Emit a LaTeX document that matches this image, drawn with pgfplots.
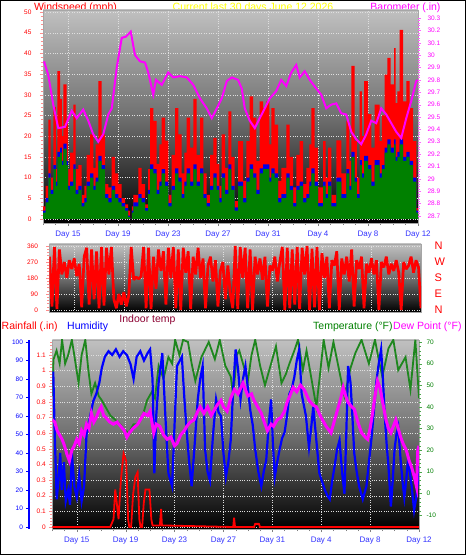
\documentclass[border=0pt]{standalone}
\usepackage{fontspec}
\setmainfont{Liberation Sans}
\usepackage{pgfplots}
\usepackage{pgfplotstable}
\pgfplotsset{compat=1.18}
\definecolor{bgtop}{RGB}{192,192,192}
\definecolor{bgmid}{RGB}{112,112,112}
\definecolor{dayblue}{RGB}{50,50,255}
\definecolor{tickpink}{RGB}{255,140,140}
\definecolor{magpink}{RGB}{255,0,255}
\definecolor{ttl}{RGB}{255,255,0}
\definecolor{indoor}{RGB}{140,0,50}
\definecolor{tgreen}{RGB}{0,128,0}
\definecolor{lgreen}{RGB}{30,135,30}
\definecolor{wgreen}{RGB}{0,128,0}
\definecolor{wblue}{RGB}{0,0,230}
\definecolor{hblue}{RGB}{0,0,255}

\pgfplotstableread{
d r b g
0.0 3 2 1.5
0.2 8 5 4
0.43 24 11 10
0.6 10 7 6
0.83 27 13 12
1.03 12 9 8
1.15 35.7 16.2 15
1.36 29 17.2 16
1.5 20 14 13
1.63 32.5 18.2 17
1.89 23 14 13
2.0 12 8 7
2.16 16 9 8
2.43 27.6 13.2 12
2.6 12 7 6
2.83 13 8 7
3.09 5.8 3.8 3
3.3 8 5 4
3.49 15.5 9 8
3.76 20.4 11 10
4.03 12.3 8 7
4.2 18 10 9
4.43 33.3 15.2 14
4.69 20.4 13 12
4.96 8.4 6 5
5.23 7.6 5 4
5.49 15 8 7
5.76 11 6 5
6.03 8.4 5 4
6.29 5 3.8 3
6.56 3.5 2.6 2
6.8 2 0.8 0.5
6.96 0 0 0
7.1 3 2 1.5
7.23 5.8 4 3
7.63 12.3 6 5
7.89 8.4 5 4
8.16 3.5 2.6 2
8.4 12 7 6
8.56 26.8 13.2 12
8.83 23.7 12 11
9.09 13.3 7 6
9.3 18 9 8
9.49 24.5 12 11
9.76 18.9 9 8
10.03 5.8 3.8 3
10.29 15.5 8 7
10.56 26.8 12.2 11
10.83 20.4 10 9
11.09 11 6 5
11.3 16 9 8
11.49 24.5 12.2 11
11.76 17.2 9 8
12.03 29 13.2 12
12.29 15.5 9 8
12.56 24.5 12.2 11
12.83 11 6 5
13.09 5.8 3.8 3
13.36 15.5 8 7
13.63 19.6 11 10
13.89 13.3 8 7
14.1 8 5 4
14.29 20.4 11 10
14.56 12.3 7 6
14.83 26 13.2 12
15.07 15 8 7
15.33 4.3 2.8 2
15.6 18.8 9 8
16.0 9.2 5 4
16.27 18.8 10 9
16.53 29.6 13.2 12
16.8 24.5 11 10
17.07 14 7 6
17.33 28.4 12.2 11
17.6 26.8 13.2 12
17.87 28.4 13.2 12
18.1 18 10 9
18.27 26.8 12.2 11
18.53 22.8 11 10
18.8 9.2 5 4
19.07 12.3 6 5
19.47 22.8 11 10
19.73 15 8 7
20.0 7.6 3.8 3
20.27 15.5 8 7
20.53 18.8 9 8
20.8 8.4 5 4
21.07 12.3 6 5
21.3 18 9 8
21.47 26.8 12.2 11
21.73 17.2 9 8
22.0 7.6 3.8 3
22.4 18.8 9 8
22.6 10 6 5
22.8 17.2 9 8
23.07 5.8 3.8 3
23.47 19 10 9
23.87 11 6 5
24.27 23.7 12 11
24.5 14 8 7
24.67 37 16.2 15
24.93 18.8 10 9
25.1 10 6 5
25.33 30.8 14.2 13
25.5 20 11 10
25.68 33.3 15.2 14
26.0 25.3 13 12
26.27 17.2 9 8
26.53 27.6 14.2 13
26.93 18.8 11 10
27.1 25 13 12
27.33 34.9 17.2 16
27.55 38.9 19.2 18
27.81 32.5 17.2 16
28.08 41.3 19.2 18
28.2 28 15 14
28.35 30.8 16.2 15
28.53 45.7 19.2 18
28.8 28.4 15 14
29.07 33.3 16.2 15
29.33 26.8 14 13
29.6 18.8 10 9
29.87 2.6 2 1.5
30.0 2 1.5 1
}\windtab

\pgfplotsset{
  every axis/.append style={
    scale only axis,
    tick align=outside, major tick length=3pt, minor tick length=2pt,
    tick label style={font=\fontsize{6.5}{7}\selectfont},
    /pgf/number format/assume math mode=true,
  },
  panelbg/.style={axis background/.style={shade, top color=bgtop, bottom color=black, middle color=bgmid}},
  daygrid/.style={xmin=0, xmax=30, xtick={2,6,...,30}, minor xtick={0,1,...,30},
    grid=major, grid style={dotted, white!75!gray, line width=0.4pt},
    axis line style={gray!70}, xtick pos=left, ytick pos=left},
  daylabels/.style={xticklabels={Day 15,Day 19,Day 23,Day 27,Day 31,Day 4,Day 8,Day 12},
    x tick label style={font=\fontsize{8}{9}\selectfont, text=dayblue, yshift=-1pt}, x tick style={gray}},
}

\begin{document}
\begin{tikzpicture}
\fill[white] (0pt,0pt) rectangle (466pt,555pt);

% titles
\node[anchor=base, text=red, font=\fontsize{10.5}{12}\selectfont, inner sep=0] at (75.5pt,544.5pt) {Windspeed (mph)};
\node[anchor=base, text=ttl, font=\fontsize{10.5}{12}\selectfont, inner sep=0] at (253pt,544.5pt) {Current last 30 days June 12 2026};
\node[anchor=base, text=magpink, font=\fontsize{10.5}{12}\selectfont, inner sep=0] at (405.5pt,544.5pt) {Barometer (.in)};

\node[anchor=base, text=indoor, font=\fontsize{10.5}{12}\selectfont, inner sep=0] at (147.5pt,232pt) {Indoor temp};
\node[anchor=base west, text=red, font=\fontsize{10.5}{12}\selectfont, inner sep=0] at (1.5pt,225pt) {Rainfall (.in)};
\node[anchor=base west, text=hblue, font=\fontsize{10.5}{12}\selectfont, inner sep=0] at (67pt,225pt) {Humidity};
\node[anchor=base west, text=tgreen, font=\fontsize{10.5}{12}\selectfont, inner sep=0] at (313pt,225pt) {Temperature (°F)};
\node[anchor=base west, text=magpink, font=\fontsize{10.5}{12}\selectfont, inner sep=0] at (393pt,225pt) {Dew Point (°F)};

% ---------- panel 1: wind speed ----------
\begin{axis}[anchor=south west, at={(43pt,332pt)}, width=375pt, height=213pt, panelbg, daygrid, daylabels,
  ymin=-1, ymax=50.5, ytick={0,5,...,50}, minor ytick={0,1,...,50},
  y tick label style={text=red, xshift=-5pt}, y tick style={tickpink}]
\addplot[const plot, fill=red, draw=none] table[x=d, y=r] {\windtab} \closedcycle;
\addplot[const plot, fill=wblue, draw=none] table[x=d, y=b] {\windtab} \closedcycle;
\addplot[const plot, fill=wgreen, draw=none] table[x=d, y=g] {\windtab} \closedcycle;
\end{axis}

\begin{axis}[anchor=south west, at={(43pt,332pt)}, width=375pt, height=213pt, xmin=0, xmax=30,
  ymin=28.643, ymax=30.365, axis x line=none, axis y line*=right,
  y axis line style={draw=none},
  ytick={28.7,28.8,...,30.3}, minor y tick num=4,
  y tick label style={text=magpink, xshift=3pt, /pgf/number format/fixed, /pgf/number format/precision=1},
  y tick style={magpink!60}]
\addplot[magpink, line width=2pt] coordinates {
(0.08,29.95) (0.42,29.84) (0.82,29.6) (1.22,29.41) (1.76,29.42) (2.3,29.55) (2.7,29.49)
(3.22,29.56) (3.62,29.47) (4.02,29.36) (4.42,29.3) (4.82,29.36) (5.22,29.52) (5.5,29.57)
(5.9,29.9) (6.3,30.14) (6.64,30.15) (7.02,30.19) (7.36,30.0) (7.76,29.95) (8.16,29.94)
(8.42,29.86) (8.82,29.68) (9.04,29.8) (9.5,29.76) (10.02,29.86) (10.42,29.82) (10.96,29.83)
(11.5,29.82) (12.02,29.76) (12.56,29.65) (13.1,29.57) (13.5,29.49) (13.9,29.57) (14.3,29.65)
(14.7,29.79) (15.1,29.82) (15.6,29.8) (15.9,29.73) (16.14,29.57) (16.54,29.47) (16.94,29.41)
(17.34,29.49) (17.74,29.57) (18.14,29.65) (18.66,29.71) (19.06,29.8) (19.46,29.75) (19.86,29.86)
(20.26,29.92) (20.54,29.82) (20.94,29.87) (21.34,29.8) (21.86,29.73) (22.26,29.68) (22.66,29.57)
(23.06,29.6) (23.46,29.61) (23.86,29.53) (24.26,29.52) (24.66,29.38) (25.06,29.32) (25.46,29.28)
(25.86,29.36) (26.26,29.47) (26.66,29.45) (27.06,29.57) (27.46,29.52) (27.86,29.45) (28.26,29.38)
(28.66,29.33) (29.06,29.49) (29.46,29.63) (29.86,29.79) (30,29.8)};
\end{axis}

% ---------- panel 2: wind direction ----------
\begin{axis}[anchor=south west, at={(49.5pt,243pt)}, width=371.5pt, height=68pt, panelbg, daygrid, xticklabels={},
  x tick style={draw=none},
  ymin=-11.25, ymax=371.25, ytick={0,90,...,360}, minor y tick num=4,
  y tick label style={text=red, xshift=-5pt}, y tick style={tickpink}]
\addplot[red, line width=2.7pt, line join=bevel] coordinates {
(0,300)(0.2,20)(0.4,355)(0.6,5)(0.8,340)
(1,200)(1.2,270)(1.4,180)(1.6,280)(1.8,230)
(2,290)(2.2,190)(2.4,260)(2.6,15)(2.8,300)
(3,350)(3.2,30)(3.4,340)(3.6,60)(3.8,330)
(4,10)(4.2,355)(4.4,25)(4.6,350)(4.8,200)
(5,355)(5.2,60)(5.4,10)(5.6,90)(5.8,30)
(6,100)(6.2,20)(6.4,80)(6.6,355)(6.8,170)
(7,185)(7.2,175)(7.4,190)(7.6,355)(7.8,10)
(8,350)(8.2,5)(8.4,300)(8.6,120)(8.8,340)
(9,220)(9.2,330)(9.4,30)(9.6,350)(9.8,180)
(10,355)(10.2,10)(10.4,340)(10.6,0)(10.8,350)
(11,210)(11.2,330)(11.4,5)(11.6,300)(11.8,200)
(12,350)(12.2,180)(12.4,290)(12.6,10)(12.8,250)
(13,300)(13.2,160)(13.4,280)(13.6,20)(13.8,220)
(14,270)(14.2,60)(14.4,250)(14.6,90)(14.8,10)
(15,360)(15.2,5)(15.4,355)(15.6,180)(15.8,350)
(16,10)(16.2,340)(16.4,0)(16.6,300)(16.8,200)
(17,290)(17.2,170)(17.4,300)(17.6,20)(17.8,250)
(18,220)(18.2,300)(18.4,160)(18.6,270)(18.8,355)
(19,0)(19.2,350)(19.4,10)(19.6,340)(19.8,30)
(20,355)(20.2,5)(20.4,350)(20.6,200)(20.8,360)
(21,0)(21.2,345)(21.4,15)(21.6,355)(21.8,0)
(22,320)(22.2,180)(22.4,300)(22.6,10)(22.8,280)
(23,250)(23.2,330)(23.4,0)(23.6,290)(23.8,200)
(24,300)(24.2,160)(24.4,340)(24.6,20)(24.8,280)
(25,230)(25.2,300)(25.4,10)(25.6,260)(25.8,210)
(26,290)(26.2,200)(26.4,280)(26.6,0)(26.8,270)
(27,240)(27.2,300)(27.4,200)(27.6,260)(27.8,220)
(28,280)(28.2,210)(28.4,0)(28.6,270)(28.8,230)
(29,250)(29.2,300)(29.4,210)(29.6,280)(29.8,240)
(30,10)};
\end{axis}

\begin{axis}[anchor=south west, at={(49.5pt,243pt)}, width=371.5pt, height=68pt, xmin=0, xmax=30,
  ymin=-11.25, ymax=371.25, axis x line=none, axis y line*=right,
  y axis line style={draw=none}, ytick={0,90,...,360}, yticklabels={N,E,S,W,N},
  major tick length=0pt,
  y tick label style={font=\fontsize{11}{12}\selectfont, text=red, xshift=10pt}]
\addplot[draw=none] coordinates {(0,0)};
\end{axis}

% ---------- panel 3 ----------
\begin{axis}[anchor=south west, at={(52.3pt,26pt)}, width=366.7pt, height=189pt, panelbg, daygrid, daylabels,
  ymin=-0.0128, ymax=1.1957, ytick={0,0.1,...,1.2}, minor y tick num=4,
  y tick label style={text=red, /pgf/number format/fixed, /pgf/number format/precision=1},
  y tick style={tickpink}]
\addplot[red, line width=1.8pt] coordinates {
(0,0) (4.74,0) (5.01,0.05) (5.15,0.24) (5.28,0.15) (5.42,0.05) (5.61,0.3) (5.83,0.47)
(6.05,0.42) (6.2,0.05) (6.3,0) (6.45,0) (6.6,0.2) (6.79,0.32) (6.98,0.35) (7.12,0.05)
(7.22,0) (7.35,0) (7.48,0.15) (7.62,0.24) (7.95,0.24) (8.1,0.05) (8.2,0.01) (8.8,0.01)
(8.9,0.115) (8.97,0.01) (14.8,0) (14.87,0.06) (14.95,0) (16.5,0) (16.6,0.02) (16.9,0.02)
(17.0,0) (30,0)};
\end{axis}

% temperature (right axis)
\begin{axis}[anchor=south west, at={(52.3pt,26pt)}, width=366.7pt, height=189pt, xmin=0, xmax=30,
  ymin=-16.47, ymax=70.92, axis x line=none, axis y line*=right,
  y axis line style={draw=none}, ytick={-10,0,...,70}, minor y tick num=4,
  y tick label style={text=tgreen, xshift=1pt}, y tick style={tgreen!70}]
\addplot[lgreen, line width=1.8pt] coordinates {
(0.0,45) (0.1,62) (0.35,66) (0.6,60) (0.8,71) (1.05,60) (1.3,64) (1.6,71) (1.85,62)
(2.15,51) (2.4,64) (2.7,71) (2.95,57) (3.2,46) (3.5,51) (3.8,45) (4.05,43) (4.35,40)
(4.75,36) (5.15,34) (5.55,32) (5.95,29) (6.25,28) (6.65,32) (7.05,32) (7.45,37) (7.75,43)
(8.15,47) (8.4,44) (8.7,59) (9.1,53) (9.5,63) (9.8,60) (10.05,71) (10.4,64) (10.7,71)
(11.1,70) (11.4,60) (11.7,52) (12.2,63) (12.8,70) (13.3,62) (13.7,71) (14.15,59) (14.6,54)
(14.8,45) (15.1,64) (15.3,66) (15.6,60) (16.0,52) (16.3,64) (16.6,71) (17.0,59) (17.4,50)
(17.9,60) (18.3,68) (18.75,51) (19.1,55) (19.4,60) (19.8,66) (20.1,71) (20.5,57) (20.8,66)
(21.2,53) (21.6,40) (21.9,55) (22.2,71) (22.6,58) (23.0,70) (23.5,56) (23.9,45) (24.4,58)
(24.8,65) (25.3,71) (25.9,60) (26.4,71) (26.7,62) (27.0,54) (27.5,67) (27.9,71) (28.3,57)
(28.9,63) (29.3,48) (29.7,71) (30.0,44)};
\end{axis}

% humidity
\begin{axis}[anchor=south west, at={(52.3pt,26pt)}, width=366.7pt, height=189pt, xmin=0, xmax=30,
  ymin=-1.08, ymax=101.08, hide axis]
\addplot[hblue, line width=2.2pt] coordinates {
(0.0,80) (0.08,84) (0.2,50) (0.36,15) (0.5,25) (0.65,40) (0.77,20) (0.95,35) (1.1,14)
(1.3,20) (1.45,12) (1.6,40) (1.8,22) (2.0,16) (2.2,28) (2.4,14) (2.6,22) (2.8,50) (3.1,60)
(3.35,68) (3.6,72) (3.85,78) (4.05,86) (4.3,92) (4.6,95) (4.9,93) (5.2,96) (5.5,92) (5.8,95)
(6.1,93) (6.4,88) (6.65,80) (6.9,92) (7.2,95) (7.5,90) (7.8,94) (8.0,96) (8.2,80) (8.35,29)
(8.5,60) (8.7,78) (9.0,94) (9.25,60) (9.5,29) (9.8,22) (10.0,55) (10.2,87) (10.6,92) (10.8,70)
(11.0,51) (11.2,35) (11.4,22) (11.65,45) (11.9,69) (12.1,80) (12.3,87) (12.5,42) (12.7,30)
(12.9,25) (13.15,50) (13.4,69) (13.6,62) (13.8,60) (14.0,40) (14.2,27) (14.4,35) (14.6,47)
(14.8,75) (15.0,96) (15.2,85) (15.4,69) (15.6,80) (15.8,87) (16.0,75) (16.2,63) (16.4,55)
(16.6,42) (16.85,30) (17.1,22) (17.3,30) (17.5,36) (17.7,55) (17.9,69) (18.05,45) (18.2,27)
(18.4,35) (18.6,42) (18.8,48) (19.0,51) (19.2,60) (19.4,72) (19.6,75) (19.8,81) (20.0,90)
(20.2,96) (20.4,72) (20.75,60) (21.0,43) (21.2,55) (21.35,65) (21.6,47) (21.85,29) (22.1,24)
(22.3,20) (22.5,17) (22.7,15) (22.9,25) (23.1,33) (23.3,42) (23.5,47) (23.7,30) (23.9,18)
(24.05,50) (24.2,87) (24.4,78) (24.55,60) (24.7,40) (24.9,30) (25.1,22) (25.4,15) (25.7,22)
(25.9,35) (26.1,47) (26.3,62) (26.5,78) (26.7,88) (26.9,96) (27.05,80) (27.2,60) (27.35,45)
(27.5,33) (27.7,11) (27.85,25) (28.0,42) (28.15,50) (28.3,54) (28.5,36) (28.65,25) (28.8,16)
(28.95,25) (29.1,36) (29.25,30) (29.4,22) (29.6,9) (29.75,15) (29.9,24) (30.0,42)};
\end{axis}

% dew point
\begin{axis}[anchor=south west, at={(52.3pt,26pt)}, width=366.7pt, height=189pt, xmin=0, xmax=30,
  ymin=-16.47, ymax=70.92, hide axis]
\addplot[magpink, line width=3pt] coordinates {
(0.0,34) (0.2,33) (0.4,29) (0.6,27) (0.8,25) (1.0,22) (1.2,18) (1.4,15) (1.6,20) (1.8,22)
(2.0,25) (2.2,23) (2.4,29) (2.6,27) (2.8,32) (3.0,30) (3.2,37) (3.4,33) (3.6,35) (3.8,38)
(4.0,40) (4.2,36) (4.4,35) (4.7,33) (5.0,32) (5.3,33) (5.6,31) (5.9,29) (6.1,26) (6.3,28)
(6.6,30) (7.0,32) (7.3,35) (7.5,37) (7.8,36) (8.0,38) (8.3,28) (8.5,32) (8.8,31) (9.1,27)
(9.4,25) (9.7,26) (10.0,22) (10.2,23) (10.5,27) (10.8,29) (11.0,31) (11.3,33) (11.6,34)
(11.9,38) (12.1,40) (12.4,37) (12.7,40) (13.0,36) (13.2,38) (13.5,41) (13.8,43) (14.0,40)
(14.3,38) (14.6,44) (14.9,48) (15.2,46) (15.6,51) (16.0,45) (16.3,46) (16.5,43) (16.8,40)
(17.1,37) (17.4,32) (17.6,29) (17.9,32) (18.1,31) (18.4,34) (18.7,35) (19.0,38) (19.2,42)
(19.5,46) (19.7,49) (20.0,47) (20.3,50) (20.6,48) (21.0,43) (21.3,41) (21.6,40) (22.0,35)
(22.4,31) (22.8,28) (23.0,32) (23.3,38) (23.6,44) (23.8,49) (24.0,45) (24.2,42) (24.5,40)
(24.7,39) (25.0,33) (25.3,28) (25.6,26) (25.8,25) (26.0,30) (26.2,37) (26.4,45) (26.6,52)
(26.8,49) (26.9,46) (27.1,40) (27.3,34) (27.5,30) (27.7,28) (27.9,31) (28.1,34) (28.3,30)
(28.5,26) (28.7,23) (28.96,20) (29.2,15) (29.4,12) (29.6,8) (29.8,3) (29.9,20) (30.0,22)};
\end{axis}

% humidity scale
\begin{axis}[anchor=south west, at={(29.5pt,26pt)}, width=0.5pt, height=189pt, xmin=0, xmax=1,
  ymin=-1.08, ymax=101.08, axis x line=none, axis y line*=left,
  y axis line style={hblue, line width=2pt}, ytick={0,10,...,100}, ytick pos=left,
  y tick label style={text=hblue}, y tick style={hblue}]
\addplot[draw=none] coordinates {(0,0)};
\end{axis}

\draw[black, line width=1.2pt] (0.6pt,0.6pt) rectangle (465.4pt,554.4pt);
\end{tikzpicture}
\end{document}
